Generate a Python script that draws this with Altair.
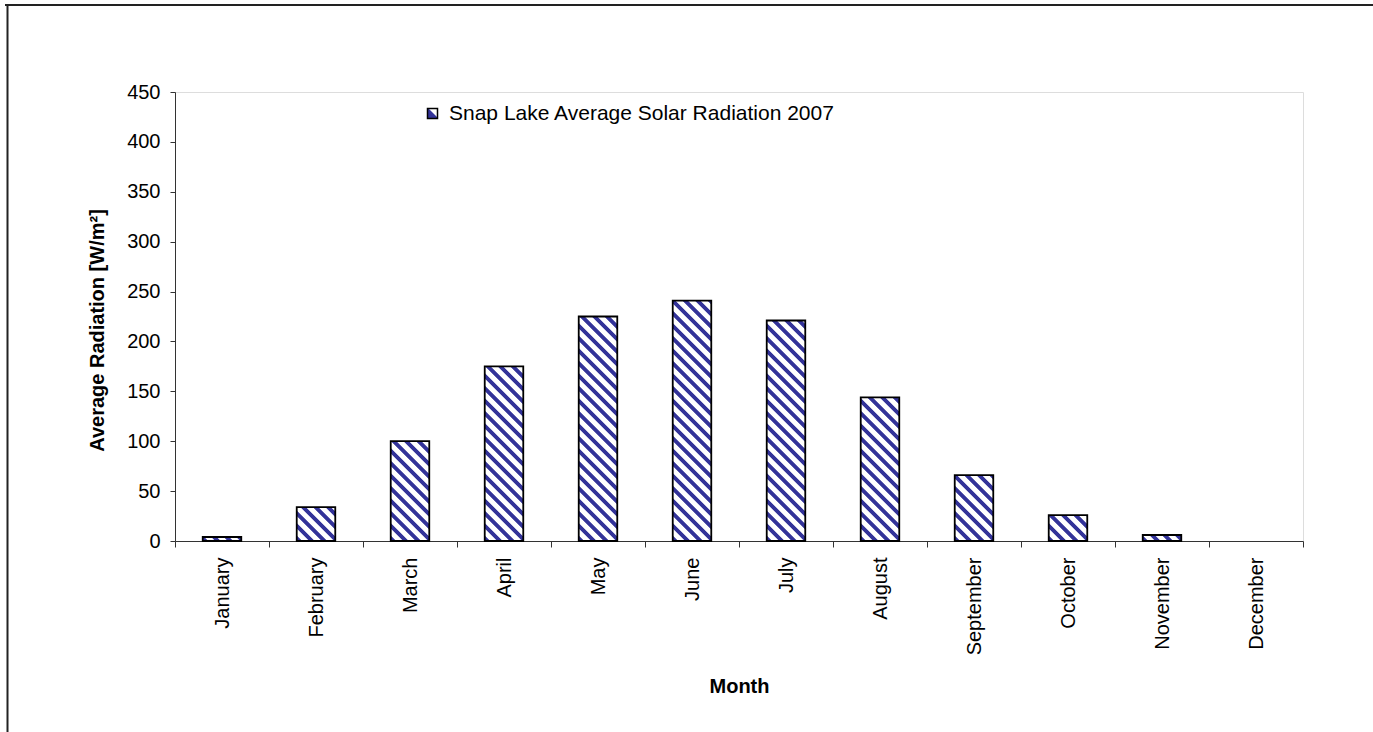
import altair as alt
import pandas as pd

# ---- data ----
months = ["January", "February", "March", "April", "May", "June",
          "July", "August", "September", "October", "November", "December"]
radiation = [4, 34, 100, 175, 225, 241, 221, 144, 66, 26, 6, 0]
series_name = "Snap Lake Average Solar Radiation 2007"
y_ticks = [0, 50, 100, 150, 200, 250, 300, 350, 400, 450]

# ---- styling ----
FONT = "Liberation Sans"
PLOT_W, PLOT_H = 1128, 449
Y_MAX = 450
BAR_FRAC = 0.41
NAVY = "#333399"
PERIOD = 12.5
NAVY_W = 5.0

df = pd.DataFrame({"month": months, "radiation": radiation, "series": series_name})


def hatch(h_px, w_px):
    """Diagonal stripes (\\ direction) as a bbox-relative linear gradient."""
    L = w_px + h_px
    k = L / (w_px ** 2 + h_px ** 2)
    pts = []
    n = 0
    while n * PERIOD <= L + PERIOD:
        p0 = n * PERIOD
        pts += [(p0 + 0.5, NAVY), (p0 + NAVY_W, NAVY),
                (p0 + NAVY_W + 1.0, "white"), (p0 + PERIOD - 0.5, "white")]
        n += 1
    stops = [alt.GradientStop(offset=p / L, color=c) for p, c in pts if 0 <= p <= L]
    return alt.LinearGradient(gradient="linear", stops=stops,
                              x1=0, y1=1, x2=k * w_px, y2=1 - k * h_px)


bar_w = BAR_FRAC * PLOT_W / len(months)

legend_symbol_fill = alt.LinearGradient(
    gradient="linear", x1=0, y1=1, x2=1, y2=0,
    stops=[alt.GradientStop(offset=0, color=NAVY), alt.GradientStop(offset=0.5, color=NAVY),
           alt.GradientStop(offset=0.6, color="white"), alt.GradientStop(offset=1, color="white")])

base = alt.Chart(df).encode(
    x=alt.X("month:N", sort=months,
            scale=alt.Scale(domain=months, paddingInner=0, paddingOuter=0),
            axis=alt.Axis(title="Month", labelAngle=-90, labelAlign="right",
                          labelBaseline="middle", labelFontSize=20, labelFont=FONT,
                          labelColor="black", labelPadding=10, tickBand="extent",
                          tickSize=6, tickColor="#333333", domainColor="#333333",
                          titleFont=FONT, titleFontSize=20, titleFontWeight="bold",
                          titleColor="black", titleY=145, titleBaseline="middle")),
    y=alt.Y("radiation:Q",
            scale=alt.Scale(domain=[0, Y_MAX], nice=False, zero=True),
            axis=alt.Axis(title="Average Radiation [W/m²]", values=y_ticks, grid=False,
                          labelFontSize=20, labelFont=FONT, labelColor="black",
                          labelPadding=10, tickSize=5, tickColor="#333333",
                          domainColor="#333333", titleFont=FONT, titleFontSize=20,
                          titleFontWeight="bold", titleColor="black",
                          titleX=-78, titleY=238, titleBaseline="middle",
                          titleAngle=270)),
    stroke=alt.Stroke("series:N", scale=alt.Scale(range=["black"]),
                      legend=alt.Legend(title=None, orient="none", legendX=247,
                                        legendY=11, symbolType="square",
                                        symbolSize=100, symbolStrokeWidth=1.5,
                                        labelFont=FONT, labelFontSize=21,
                                        labelColor="black", labelOffset=6,
                                        labelLimit=0, padding=0)),
)

# first layer only supplies the legend swatch (no marks drawn)
legend_layer = base.transform_filter("false").mark_bar(
    fill=legend_symbol_fill, strokeWidth=1.8, width=alt.RelativeBandSize(BAR_FRAC))

bars = []
for m, v in zip(months, radiation):
    if v <= 0:
        continue
    h_px = v * PLOT_H / Y_MAX
    bars.append(
        base.transform_filter(alt.datum.month == m).mark_bar(
            fill=hatch(h_px, bar_w), strokeWidth=1.8,
            width=alt.RelativeBandSize(BAR_FRAC))
    )

frame_df = pd.DataFrame({"k": [0]})
frame_top = alt.Chart(frame_df).mark_rule(color="#222222", strokeWidth=2).encode(
    x=alt.value(-170), x2=alt.value(1250), y=alt.value(-87))
frame_left = alt.Chart(frame_df).mark_rule(color="#222222", strokeWidth=2).encode(
    x=alt.value(-167.5), y=alt.value(-88), y2=alt.value(700))

chart = alt.layer(frame_top, frame_left, legend_layer, *bars).properties(
    width=PLOT_W, height=PLOT_H,
    padding={"left": 175, "top": 92, "right": 70, "bottom": 191},
    autosize=alt.AutoSizeParams(type="none"),
).configure_view(stroke=None).configure(background="white")

chart.save("out.html", embed_options={"renderer": "svg", "actions": False})
